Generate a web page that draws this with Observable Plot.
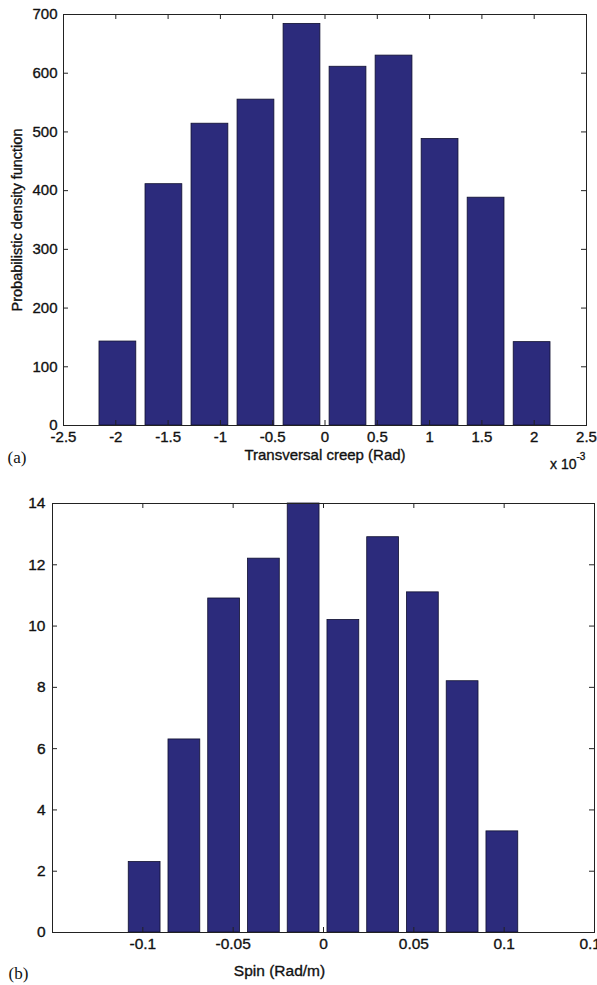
<!DOCTYPE html>
<html><head><meta charset="utf-8">
<script src="https://cdn.jsdelivr.net/npm/d3@7"></script>
<script src="https://cdn.jsdelivr.net/npm/@observablehq/plot@0.6"></script>
<style>
html,body{margin:0;padding:0;background:#fff;overflow:hidden;width:597px;height:985px;}
#wrap{position:relative;width:597px;height:985px;overflow:hidden;}
#wrap svg{position:absolute;left:0;}
</style></head><body><div id="wrap"></div>
<script>
// ---- Panel (a): transversal creep (x in units of 10^-3 rad)
const creepCenters = [-1.98, -1.54, -1.10, -0.66, -0.22, 0.22, 0.66, 1.10, 1.54, 1.98];
const creepPdf = [143, 411, 514, 555, 684, 611, 630, 488, 388, 142];
const creepBinWidth = 0.44;
const creepXTicks = [-2.5, -2, -1.5, -1, -0.5, 0, 0.5, 1, 1.5, 2, 2.5];
const creepYTicks = [0, 100, 200, 300, 400, 500, 600, 700];

// ---- Panel (b): spin (rad/m)
const spinCenters = [-0.099, -0.077, -0.055, -0.033, -0.011, 0.011, 0.033, 0.055, 0.077, 0.099];
const spinPdf = [2.3, 6.3, 10.9, 12.2, 14.0, 10.2, 12.9, 11.1, 8.2, 3.3];
const spinBinWidth = 0.022;
const spinXTicks = [-0.1, -0.05, 0, 0.05, 0.1, 0.15];
const spinYTicks = [0, 2, 4, 6, 8, 10, 12, 14];

const BAR = "#2c2b7c";
const INK = "#111";
const SANS = "Liberation Sans, Arial, Helvetica, sans-serif";
const SERIF = "Liberation Serif, Times New Roman, serif";
const HEAVY = {fill: INK, stroke: INK, strokeWidth: 0.35};

function panel(o) {
  const bars = o.centers.map((c, i) => ({x1: c - o.binWidth * 0.4, x2: c + o.binWidth * 0.4, y: o.values[i]}));
  const plotW = o.width - o.mL - o.mR, plotH = o.height - o.mT - o.mB;
  const T = 5;
  const marks = [
    Plot.rectY(bars, {x1: "x1", x2: "x2", y1: 0, y2: "y", fill: BAR, stroke: "#101030", strokeWidth: 0.8}),
    Plot.ruleX(o.xTicks, {x: d => d, insetTop: plotH - T, stroke: "#222"}),
    Plot.ruleX(o.xTicks, {x: d => d, insetBottom: plotH - T, stroke: "#222"}),
    Plot.ruleY(o.yTicks, {y: d => d, insetRight: plotW - T, stroke: "#222"}),
    Plot.ruleY(o.yTicks, {y: d => d, insetLeft: plotW - T, stroke: "#222"}),
    Plot.frame({stroke: "#222", strokeWidth: 1}),
    Plot.text(o.xTicks, {x: d => d, text: d => String(d), frameAnchor: "bottom", dy: o.xTickDy, fontSize: o.fs, ...HEAVY}),
    Plot.text(o.yTicks, {y: d => d, text: d => String(d), frameAnchor: "left", textAnchor: "end", dx: o.yTickDx, fontSize: o.fs, ...HEAVY}),
    Plot.text([o.xLabel], {text: d => d, frameAnchor: "bottom", dx: o.xLabelDx, dy: o.xLabelDy, fontSize: o.fs, ...HEAVY}),
    Plot.text([o.tag], {text: d => d, frameAnchor: "bottom-left", textAnchor: "start", dx: o.tagDx, dy: o.tagDy, fontSize: 17, fontFamily: SERIF, fill: INK})
  ];
  if (o.yLabel) marks.push(Plot.text([o.yLabel], {text: d => d, frameAnchor: "left", textAnchor: "middle", rotate: -90, dx: o.yLabelDx, fontSize: 14.5, ...HEAVY}));
  if (o.extra) marks.push(...o.extra);
  const svg = Plot.plot({
    width: o.width, height: o.height,
    marginLeft: o.mL, marginRight: o.mR, marginTop: o.mT, marginBottom: o.mB,
    x: {domain: o.xDomain, axis: null},
    y: {domain: o.yDomain, axis: null},
    style: {fontFamily: SANS, background: "transparent"},
    marks
  });
  svg.style.top = o.top + "px";
  return svg;
}

const wrap = document.getElementById("wrap");
wrap.appendChild(panel({
  top: 0, width: 597, height: 480, mL: 63, mR: 11, mT: 14, mB: 55,
  centers: creepCenters, values: creepPdf, binWidth: creepBinWidth,
  xDomain: [-2.5, 2.5], yDomain: [0, 700], xTicks: creepXTicks, yTicks: creepYTicks,
  fs: 15, xTickDy: 16, yTickDx: -6,
  xLabel: "Transversal creep (Rad)", xLabelDx: 0, xLabelDy: 34,
  tag: "(a)", tagDx: -56, tagDy: 37,
  yLabel: "Probabilistic density function", yLabelDx: -46,
  extra: [
    Plot.text(["x 10"], {text: d => d, frameAnchor: "bottom-right", textAnchor: "end", dx: -10, dy: 43, fontSize: 14, ...HEAVY}),
    Plot.text(["-3"], {text: d => d, frameAnchor: "bottom-right", textAnchor: "start", dx: -10, dy: 34, fontSize: 10, ...HEAVY})
  ]
}));
wrap.appendChild(panel({
  top: 480, width: 597, height: 505, mL: 52, mR: 3, mT: 23, mB: 53,
  centers: spinCenters, values: spinPdf, binWidth: spinBinWidth,
  xDomain: [-0.15, 0.15], yDomain: [0, 14], xTicks: spinXTicks, yTicks: spinYTicks,
  fs: 15.5, xTickDy: 16, yTickDx: -7,
  xLabel: "Spin (Rad/m)", xLabelDx: -44, xLabelDy: 43,
  tag: "(b)", tagDx: -44, tagDy: 46
}));
</script></body></html>
